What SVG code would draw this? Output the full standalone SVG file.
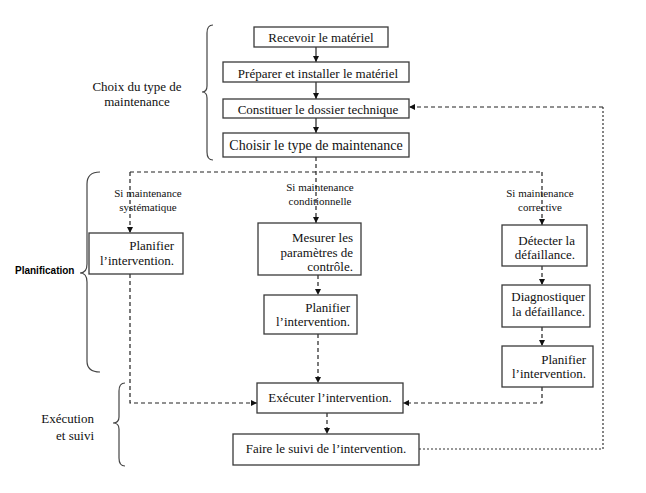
<svg xmlns="http://www.w3.org/2000/svg" width="646" height="493" viewBox="0 0 646 493">
<style>
.box{fill:#fff;stroke:#3a3a3a;stroke-width:1.3}
.t{font-family:"Liberation Serif","Times New Roman",serif;font-size:13px;fill:#111}
.s{font-family:"Liberation Serif","Times New Roman",serif;font-size:11px;fill:#111;text-anchor:middle}
.m{text-anchor:middle}
.e{text-anchor:end}
.ln{fill:none;stroke:#222;stroke-width:1.2}
.d{fill:none;stroke:#222;stroke-width:1.2;stroke-dasharray:4 3}
.dot{fill:none;stroke:#333;stroke-width:1.2;stroke-dasharray:2 2}
.br{fill:none;stroke:#444;stroke-width:1.2}
</style>
<defs>
<marker id="ah" viewBox="0 0 10 10" refX="10" refY="5" markerWidth="6" markerHeight="6" markerUnits="userSpaceOnUse" orient="auto">
<path d="M0,0 L10,5 L0,10 z" fill="#111"/>
</marker>
</defs>
<rect width="646" height="493" fill="#fff"/>

<g id="braces">
<path class="br" d="M213,25 Q207,25 207,33 L207,86 Q207,92 202,92 Q207,92 207,98 L207,152 Q207,160 213,160"/>
<path class="br" d="M100,172 Q87,172 87,184 L87,264 Q87,273 80,273 Q87,273 87,282 L87,361 Q87,372 100,372"/>
<path class="br" d="M125,383 Q119,383 119,391 L119,417 Q119,423 113,423 Q119,423 119,429 L119,458 Q119,466 125,466"/>
</g>
<g id="labels">
<text class="t m" x="137" y="91">Choix du type de</text>
<text class="t m" x="137" y="106">maintenance</text>
<text x="15" y="274" style="font-family:'Liberation Sans',Arial,sans-serif;font-size:10px;font-weight:bold;fill:#000">Planification</text>
<text class="t e" x="94" y="423">Exécution</text>
<text class="t e" x="94" y="440">et suivi</text>
<text class="s" x="148" y="197">Si maintenance</text>
<text class="s" x="148" y="211">systématique</text>
<text class="s" x="320" y="191">Si maintenance</text>
<text class="s" x="320" y="205">conditionnelle</text>
<text class="s" x="540" y="197">Si maintenance</text>
<text class="s" x="540" y="211">corrective</text>
</g>

<g id="connectors">
<line class="ln" x1="316" y1="47" x2="316" y2="62" marker-end="url(#ah)"/>
<line class="ln" x1="316" y1="82" x2="316" y2="99" marker-end="url(#ah)"/>
<line class="ln" x1="316" y1="118" x2="316" y2="133" marker-end="url(#ah)"/>
<line class="d" x1="316" y1="157" x2="316" y2="223" marker-end="url(#ah)"/>
<line class="d" x1="130" y1="172" x2="542" y2="172"/>
<line class="d" x1="130" y1="172" x2="130" y2="233" marker-end="url(#ah)"/>
<line class="d" x1="542" y1="172" x2="542" y2="225" marker-end="url(#ah)"/>
<polyline class="d" points="130,274 130,403 257,403" marker-end="url(#ah)"/>
<line class="d" x1="318" y1="275" x2="318" y2="295" marker-end="url(#ah)"/>
<line class="d" x1="318" y1="334" x2="318" y2="383" marker-end="url(#ah)"/>
<line class="d" x1="542" y1="266" x2="542" y2="285" marker-end="url(#ah)"/>
<line class="d" x1="542" y1="327" x2="542" y2="346" marker-end="url(#ah)"/>
<polyline class="d" points="542,387 542,403 403,403" marker-end="url(#ah)"/>
<line class="d" x1="327" y1="413" x2="327" y2="434" marker-end="url(#ah)"/>
<polyline class="dot" points="419,449 603,449 603,107"/>
<polyline class="d" points="603,107 409,107" marker-end="url(#ah)"/>
</g>

<g id="n1"><rect class="box" x="254" y="27" width="134" height="20"/><text class="t m" x="321" y="42">Recevoir le matériel</text></g>
<g id="n2"><rect class="box" x="223" y="62" width="186" height="20"/><text class="t m" x="318" y="78">Préparer et installer le matériel</text></g>
<g id="n3"><rect class="box" x="223" y="99" width="186" height="19"/><text class="t m" x="318" y="114">Constituer le dossier technique</text></g>
<g id="n4"><rect class="box" x="223" y="133" width="186" height="24"/><text class="t m" x="316" y="150" style="font-size:14px">Choisir le type de maintenance</text></g>

<g id="n5"><rect class="box" x="89" y="233" width="94" height="41"/><text class="t e" x="174" y="250">Planifier</text><text class="t e" x="174" y="265">l’intervention.</text></g>

<g id="n6"><rect class="box" x="258" y="223" width="103" height="52"/><text class="t e" x="353" y="242">Mesurer les</text><text class="t e" x="353" y="257">paramètres de</text><text class="t e" x="353" y="271">contrôle.</text></g>
<g id="n7"><rect class="box" x="264" y="295" width="93" height="39"/><text class="t e" x="350" y="312">Planifier</text><text class="t e" x="350" y="326">l’intervention.</text></g>

<g id="n8"><rect class="box" x="502" y="225" width="85" height="41"/><text class="t e" x="575" y="245">Détecter la</text><text class="t e" x="575" y="259">défaillance.</text></g>
<g id="n9"><rect class="box" x="502" y="285" width="88" height="42"/><text class="t e" x="585" y="301">Diagnostiquer</text><text class="t e" x="585" y="316">la défaillance.</text></g>
<g id="n10"><rect class="box" x="502" y="346" width="91" height="41"/><text class="t e" x="586" y="364">Planifier</text><text class="t e" x="586" y="378">l’intervention.</text></g>

<g id="n11"><rect class="box" x="257" y="383" width="146" height="30"/><text class="t m" x="330" y="402">Exécuter l’intervention.</text></g>
<g id="n12"><rect class="box" x="233" y="434" width="186" height="31"/><text class="t m" x="326" y="453">Faire le suivi de l’intervention.</text></g>
</svg>
